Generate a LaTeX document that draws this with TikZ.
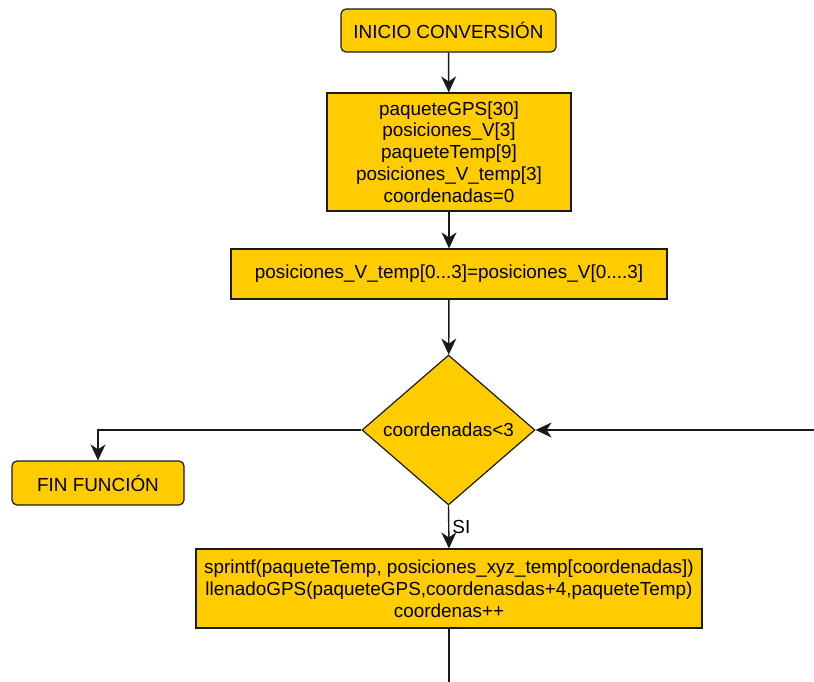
\documentclass[tikz,border=0pt]{standalone}
\usepackage{fontspec}
\setmainfont{Liberation Sans}
\usetikzlibrary{shapes.geometric,arrows.meta}
\definecolor{boxfill}{HTML}{FFCC00}
\definecolor{edge}{HTML}{1A1A1A}
\begin{document}
\begin{tikzpicture}[x=1pt,y=-1pt,
  every node/.style={font=\fontsize{18.9}{21.8}\selectfont},
  proc/.style={draw=edge,line width=1.2pt,fill=boxfill,align=center,inner sep=0pt},
  term/.style={proc,rounded corners=5pt},
  decision/.style={draw=edge,line width=1.2pt,fill=boxfill,diamond,inner sep=0pt},
  flow/.style={draw=edge,line width=1.4pt,-{Stealth[length=16pt,width=15pt,inset=5pt]}}]
\useasboundingbox (0,0) rectangle (814,682);

\node[term,minimum width=215pt,minimum height=43pt] (start) at (448.5,30.5) {INICIO CONVERSIÓN};
\node[proc,minimum width=244pt,minimum height=118pt] (decl) at (449,152)
  {paqueteGPS[30]\\posiciones\_V[3]\\paqueteTemp[9]\\posiciones\_V\_temp[3]\\coordenadas=0};
\node[proc,minimum width=436pt,minimum height=50pt] (copy) at (449,274)
  {posiciones\_V\_temp[0...3]=posiciones\_V[0....3]};
\node[decision,minimum width=173pt,minimum height=150pt] (cond) at (448.5,430) {coordenadas<3};
\node[term,minimum width=172pt,minimum height=44pt] (fin) at (98,483) {FIN FUNCIÓN};
\node[proc,minimum width=506pt,minimum height=79pt] (body) at (449,588.5)
  {sprintf(paqueteTemp, posiciones\_xyz\_temp[coordenadas])\\llenadoGPS(paqueteGPS,coordenasdas+4,paqueteTemp)\\coordenas++};

\coordinate (loopin) at (814,430);
\coordinate (loopout) at (449,682);

\draw[flow] (start) -- (decl);
\draw[flow] (decl) -- (copy);
\draw[flow] (copy) -- (cond);
\draw[flow] (cond.west) -| (fin.north);
\draw[flow] (loopin) -- (cond.east);
\draw[flow] (cond.south) -- node[right,inner sep=3pt] {SI} (body.north);
\draw[draw=edge,line width=1.4pt] (body.south) -- (loopout);
\end{tikzpicture}
\end{document}
